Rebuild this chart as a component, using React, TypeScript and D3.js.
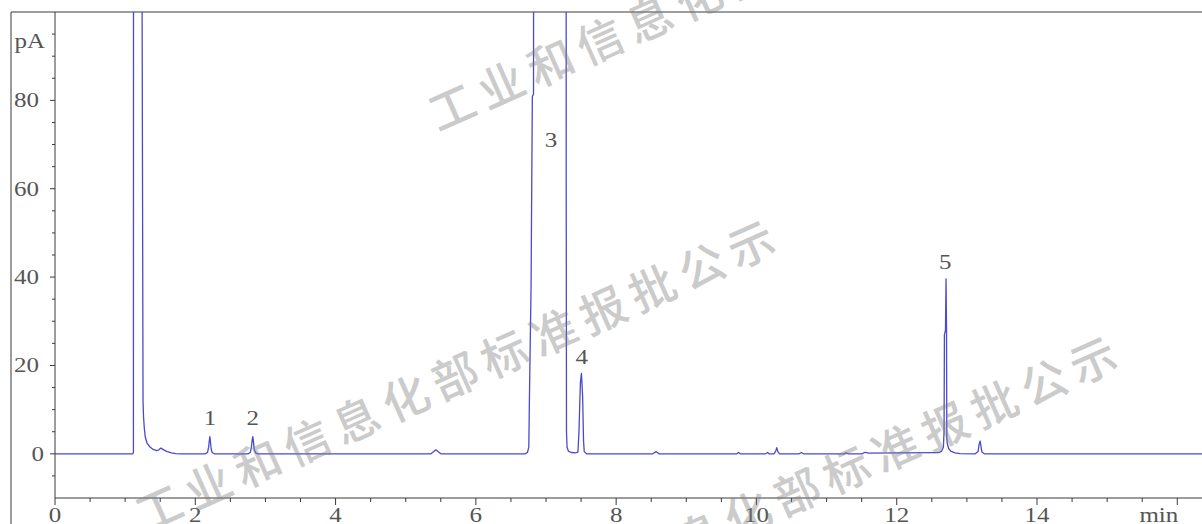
import React from 'react';
import * as d3 from 'd3';

const W = 1202;
const H = 524;

// chromatogram trace, [retention time (min), signal (pA)].
// values above 100 are off-scale and get clipped.
const trace: [number, number][] = [
  [0, 0], [1.11, 0], [1.118, 0.3], [1.122, 400], [1.236, 400], [1.242, 100],
  [1.255, 12], [1.262, 8.5], [1.272, 6], [1.287, 3.8], [1.31, 2.5], [1.35, 1.6],
  [1.4, 1.0], [1.45, 0.7], [1.48, 0.9], [1.51, 1.3], [1.55, 0.9], [1.6, 0.5],
  [1.66, 0.2], [1.72, 0.05], [1.8, 0],
  // peak 1
  [2.14, 0], [2.175, 0.3], [2.19, 1.5], [2.2, 3.0], [2.208, 3.9], [2.215, 3.0],
  [2.225, 1.2], [2.24, 0.3], [2.27, 0],
  // peak 2
  [2.75, 0], [2.785, 0.3], [2.8, 1.5], [2.812, 3.2], [2.82, 3.9], [2.828, 3.0],
  [2.84, 1.0], [2.86, 0.2], [2.89, 0],
  [5.36, 0], [5.4, 0.5], [5.43, 0.9], [5.46, 0.5], [5.5, 0],
  // peak 3 (off scale)
  [6.7, 0], [6.735, 0.3], [6.755, 1.5], [6.762, 10.6], [6.787, 37.8], [6.805, 80.8],
  [6.822, 81.5], [6.833, 400], [7.283, 400], [7.288, 60], [7.292, 5], [7.3, 1.5],
  [7.32, 0.6], [7.36, 0.3], [7.42, 0.2],
  // peak 4
  [7.455, 0.4], [7.47, 5], [7.49, 16], [7.505, 18.2], [7.522, 13], [7.535, 3],
  [7.545, 0.5], [7.58, 0],
  [8.52, 0], [8.57, 0.5], [8.61, 0],
  [9.72, 0], [9.745, 0.3], [9.77, 0],
  [10.13, 0], [10.16, 0.3], [10.18, 0],
  [10.25, 0], [10.275, 0.6], [10.29, 1.4], [10.305, 0.5], [10.33, 0],
  [10.61, 0], [10.64, 0.3], [10.67, 0],
  [11.25, 0], [11.28, 0.2], [11.31, 0], [11.5, 0], [11.55, 0.35], [11.6, 0.15],
  [12.0, 0.2], [12.6, 0.25],
  // peak 5
  [12.64, 0.6], [12.665, 1.5], [12.675, 5], [12.68, 27], [12.695, 28], [12.703, 39.6],
  [12.71, 28], [12.714, 3.5], [12.72, 2.4], [12.74, 1.2], [12.77, 0.6], [12.83, 0.2],
  [12.9, 0.05],
  [13.12, 0], [13.16, 0.5], [13.175, 2.2], [13.19, 2.9], [13.2, 1.8], [13.215, 0.4],
  [13.25, 0],
  [16.5, 0],
];

const peakNames = ['1', '2', '3', '4', '5'];
const peakLabelTime = [2.21, 2.82, 7.07, 7.51, 12.69];
const peakLabelLevel = [8.1, 8.1, 71, 22, 43.5];

const xTickLabels = ['0', '2', '4', '6', '8', '10', '12', '14'];
const yTickLabels = ['0', '20', '40', '60', '80'];
const xUnit = 'min';
const yUnit = 'pA';

const watermark = '工业和信息化部标准报批公示';

const TEXT_COLOR = '#555';
const AXIS_COLOR = '#3a3a3a';
const LINE_COLOR = '#4a4acc';

// the picture is stretched sideways, so glyphs are too
const Label = ({ x, y, anchor = 'middle', children }: any) => (
  <text
    transform={`translate(${x},${y}) scale(1.25,1)`}
    textAnchor={anchor}
    fontFamily="'Liberation Serif', 'Times New Roman', serif"
    fontSize={20}
    fill={TEXT_COLOR}
  >
    {children}
  </text>
);

const App: React.FC = () => {
  const x = d3.scaleLinear().domain([0, 16]).range([55, 1177.3]);
  const y = d3.scaleLinear().domain([-10, 100]).range([498, 12]);

  const line = d3.line<[number, number]>()
    .x(d => x(d[0]))
    .y(d => y(d[1]));

  const xMinor = d3.range(0, 16.01, 0.5);
  const yMinor = d3.range(-5, 96, 5);

  const [x0] = x.range();
  const [yb, yt] = y.range();

  return (
    <svg width={W} height={H} style={{ position: 'absolute', left: 0, top: 0, background: '#fff' }}>
      <defs>
        <clipPath id="plot">
          <rect x={x0} y={yt} width={W - x0} height={yb - yt} />
        </clipPath>
      </defs>

      {/* frame */}
      <line x1={11} x2={W} y1={yt} y2={yt} stroke={AXIS_COLOR} strokeWidth={1} />
      <line x1={11} x2={11} y1={yt} y2={H} stroke={AXIS_COLOR} strokeWidth={1} />
      <line x1={x0} x2={x0} y1={yt} y2={yb} stroke={AXIS_COLOR} strokeWidth={1} />
      <line x1={x0} x2={W} y1={yb} y2={yb} stroke={AXIS_COLOR} strokeWidth={1} />

      {/* x ticks */}
      {xMinor.map(t => {
        const major = Math.abs(t % 2) < 1e-6;
        return (
          <line key={'xt' + t} x1={x(t)} x2={x(t)} y1={yb} y2={yb + (major ? 7 : 4)}
            stroke={AXIS_COLOR} strokeWidth={1} />
        );
      })}
      {xTickLabels.map(l => (
        <Label key={'xl' + l} x={x(+l)} y={522}>{l}</Label>
      ))}
      <Label x={x(16) + 1} y={522} anchor="end">{xUnit}</Label>

      {/* y ticks */}
      {yMinor.map(v => {
        const major = v % 20 === 0;
        return (
          <line key={'yt' + v} x1={x0 - (major ? 5 : 3)} x2={x0} y1={y(v)} y2={y(v)}
            stroke={AXIS_COLOR} strokeWidth={1} />
        );
      })}
      {yTickLabels.map(l => (
        <Label key={'yl' + l} x={+l === 0 ? 44 : 39} y={y(+l) + 7} anchor="end">{l}</Label>
      ))}
      <Label x={45} y={48} anchor="end">{yUnit}</Label>

      {/* trace */}
      <path d={line(trace) || ''} fill="none" stroke={LINE_COLOR} strokeWidth={1.3}
        clipPath="url(#plot)" strokeLinejoin="round" />

      {peakNames.map((n, i) => (
        <Label key={'pk' + n} x={x(peakLabelTime[i])} y={y(peakLabelLevel[i]) + 7}>{n}</Label>
      ))}

      {/* watermark */}
      {[[438, 132], [145, 533], [487, 649]].map(([wx, wy], i) => (
        <text key={'wm' + i} transform={`translate(${wx},${wy}) rotate(-24)`}
          fontFamily="'Noto Sans CJK SC', sans-serif" fontWeight={500} fontSize={46}
          letterSpacing={8} fill="#808080" opacity={0.4}>
          {watermark}
        </text>
      ))}
    </svg>
  );
};

export default App;
